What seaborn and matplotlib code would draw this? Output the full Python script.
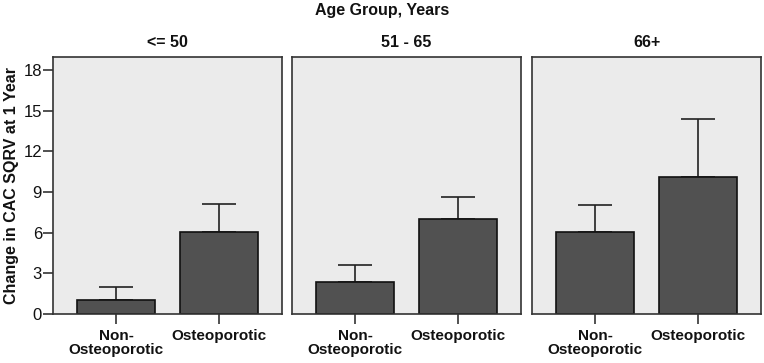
import seaborn as sns
import pandas as pd
import matplotlib.pyplot as plt

sns.set_style("white")
plt.rcParams["font.family"] = ["Liberation Sans", "DejaVu Sans"]
plt.rcParams["text.color"] = "#111111"
plt.rcParams["axes.labelcolor"] = "#111111"
plt.rcParams["xtick.color"] = "#111111"
plt.rcParams["ytick.color"] = "#111111"

# values
age_groups = ["<= 50", "51 - 65", "66+"]
status = ["Non-\nOsteoporotic", "Osteoporotic"]
means = {
    "<= 50": [1.03, 6.02],
    "51 - 65": [2.38, 7.0],
    "66+": [6.07, 10.08],
}
upper = {
    "<= 50": [2.0, 8.09],
    "51 - 65": [3.61, 8.65],
    "66+": [8.04, 14.4],
}
yticks = [0, 3, 6, 9, 12, 15, 18]

rows = []
for g in age_groups:
    for s, m, u in zip(status, means[g], upper[g]):
        rows.append({"age": g, "status": s, "mean": m, "upper": u})
df = pd.DataFrame(rows)

fig = plt.figure(figsize=(7.64, 3.63), dpi=100)
lefts = [53, 292, 532]
width = 229
for i, g in enumerate(age_groups):
    ax = fig.add_axes([lefts[i] / 764, 1 - 314 / 363, width / 764, 257 / 363])
    sub = df[df["age"] == g]
    # error bars first so the bar hides the lower half
    ax.errorbar(range(len(sub)), sub["mean"], yerr=[[0] * len(sub), sub["upper"] - sub["mean"]],
                fmt="none", ecolor="#222222", elinewidth=1.2, capsize=12, capthick=1.2, zorder=1)
    sns.barplot(data=sub, x="status", y="mean", color="#515151", edgecolor="#111111",
                linewidth=1.2, width=0.76, saturation=1, errorbar=None, ax=ax, zorder=2)
    ax.set_facecolor("#ebebeb")
    ax.set_xlim(-0.615, 1.615)
    ax.set_ylim(0, 18.95)
    ax.set_xlabel("")
    ax.set_title(g, fontsize=11.5, fontweight="bold", pad=7)
    for sp in ax.spines.values():
        sp.set_color("#333333")
        sp.set_linewidth(1.2)
    ax.tick_params(axis="x", bottom=True, length=7.5, width=1.2, color="#333333", pad=3)
    for lab in ax.get_xticklabels():
        lab.set_fontweight("bold")
        lab.set_fontsize(11)
        lab.set_linespacing(1.05)
    if i == 0:
        ax.set_yticks(yticks)
        ax.tick_params(axis="y", left=True, length=7, width=1.2, color="#333333", labelsize=12, pad=1)
        ax.set_ylabel("Change in CAC SQRV at 1 Year", fontsize=11.5, fontweight="bold", labelpad=3)
    else:
        ax.set_yticks([])
        ax.set_ylabel("")

fig.text(0.5, 1 - 11 / 363, "Age Group, Years", ha="center", va="center", fontsize=11.5, fontweight="bold")
fig.savefig("out.png", dpi=100)
